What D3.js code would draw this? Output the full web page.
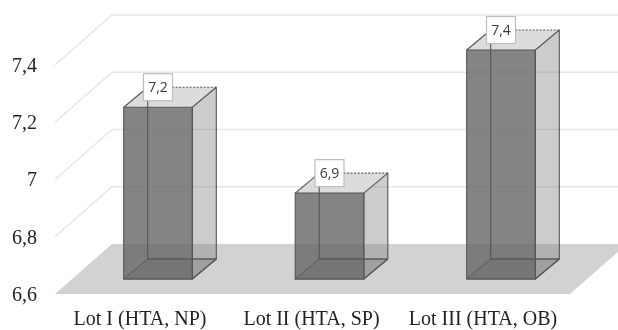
<!DOCTYPE html>
<html>
<head>
<meta charset="utf-8">
<script src="https://cdn.jsdelivr.net/npm/d3@7"></script>
<style>
  html, body { margin: 0; padding: 0; background: #fff; }
  svg { display: block; }
  .axis text { font-family: "Liberation Serif", serif; fill: #222; }
</style>
</head>
<body>
<div id="chart"></div>
<script>
const categories = ["Lot I (HTA, NP)", "Lot II (HTA, SP)", "Lot III (HTA, OB)"];
const values = [7.2, 6.9, 7.4];
const labels = ["7,2", "6,9", "7,4"];
const yTicks = [6.6, 6.8, 7, 7.2, 7.4];

const width = 618, height = 330;

// 3D offsets: floor depth and bar depth
const floorDx = 57, floorDy = 50;
const barDx = 24, barDy = 20;

const svg = d3.select("#chart").append("svg")
    .attr("width", width)
    .attr("height", height);

// the reference is a soft scan
svg.append("defs").append("filter")
    .attr("id", "soft")
    .append("feGaussianBlur")
    .attr("stdDeviation", 0.5);

const root = svg.append("g").attr("filter", "url(#soft)");

// Scales
const x = d3.scaleBand()
    .domain(categories)
    .range([72.25, 586.75])
    .paddingInner(0.6)
    .paddingOuter(0.3);

// front plane of the floor (axis labels sit here)
const yFront = d3.scaleLinear().domain([6.6, 7.4]).range([294, 65]);
// plane of the bar fronts
const yBar = d3.scaleLinear().domain([6.6, 7.4]).range([279, 50]);

const floorLeft = 55, floorRight = 570;

// Floor
root.append("polygon")
    .attr("points", [
        [floorLeft, yFront(6.6)],
        [floorRight, yFront(6.6)],
        [floorRight + floorDx, yFront(6.6) - floorDy],
        [floorLeft + floorDx, yFront(6.6) - floorDy]
    ].join(" "))
    .attr("fill", "#d2d2d2");

// Grid lines, side wall + back wall
root.selectAll(".grid")
    .data(yTicks.filter(d => d > 6.6))
    .enter()
    .append("polyline")
    .attr("class", "grid")
    .attr("fill", "none")
    .attr("stroke", "#e6e6e6")
    .attr("stroke-width", 1.3)
    .attr("points", d => [
        [floorLeft, yFront(d)],
        [floorLeft + floorDx, yFront(d) - floorDy],
        [width, yFront(d) - floorDy]
    ].join(" "));

// Bars
const bar = root.selectAll(".bar")
    .data(categories.map((c, i) => ({ cat: c, value: values[i], label: labels[i] })))
    .enter()
    .append("g")
    .attr("class", "bar");

const edge = "#555";

function face(sel, pts, fill, opacity) {
    sel.append("polygon")
        .attr("points", d => pts(d).join(" "))
        .attr("fill", fill)
        .attr("fill-opacity", opacity)
        .attr("stroke", edge)
        .attr("stroke-width", 1.1)
        .attr("stroke-linejoin", "round");
}

function edgeLine(sel, pts) {
    return sel.append("polyline")
        .attr("points", d => pts(d).join(" "))
        .attr("fill", "none")
        .attr("stroke", edge)
        .attr("stroke-width", 1.1);
}

const x0 = d => x(d.cat);
const x1 = d => x(d.cat) + x.bandwidth();
const yb = yBar(6.6);

// bottom face
face(bar, d => [[x0(d), yb], [x1(d), yb], [x1(d) + barDx, yb - barDy], [x0(d) + barDx, yb - barDy]], "#777", 0.3);

// top face, no outline: its back edge is dotted
bar.append("polygon")
    .attr("points", d => [[x0(d), yBar(d.value)], [x1(d), yBar(d.value)], [x1(d) + barDx, yBar(d.value) - barDy], [x0(d) + barDx, yBar(d.value) - barDy]].join(" "))
    .attr("fill", "#dcdcdc");

// side face
face(bar, d => [[x1(d), yb], [x1(d) + barDx, yb - barDy], [x1(d) + barDx, yBar(d.value) - barDy], [x1(d), yBar(d.value)]], "#808080", 0.4);

// front face
face(bar, d => [[x0(d), yb], [x1(d), yb], [x1(d), yBar(d.value)], [x0(d), yBar(d.value)]], "#666", 0.8);

// edges seen through the front
edgeLine(bar, d => [[x0(d) + barDx, yBar(d.value) - barDy], [x0(d) + barDx, yb - barDy], [x1(d) + barDx, yb - barDy]]);
edgeLine(bar, d => [[x0(d), yBar(d.value)], [x0(d) + barDx, yBar(d.value) - barDy]]);
edgeLine(bar, d => [[x0(d) + barDx, yBar(d.value) - barDy], [x1(d) + barDx, yBar(d.value) - barDy]])
    .attr("stroke-dasharray", "2 1.5");

// Value labels
const boxW = 29, boxH = 27;

bar.append("rect")
    .attr("x", d => x0(d) + x.bandwidth() / 2 - boxW / 2)
    .attr("y", d => yBar(d.value) - barDy - boxH / 2)
    .attr("width", boxW)
    .attr("height", boxH)
    .attr("fill", "#fff")
    .attr("stroke", "#bdbdbd")
    .attr("stroke-width", 1.2);

bar.append("text")
    .attr("x", d => x0(d) + x.bandwidth() / 2)
    .attr("y", d => yBar(d.value) - barDy)
    .attr("dy", "0.35em")
    .attr("text-anchor", "middle")
    .attr("font-family", "'Open Sans', sans-serif")
    .attr("font-size", 14)
    .attr("fill", "#3a3a3a")
    .text(d => d.label);

// Axes
const yAxis = root.append("g")
    .attr("class", "axis")
    .attr("transform", "translate(37,0)")
    .call(d3.axisLeft(yFront)
        .tickValues(yTicks)
        .tickSize(0)
        .tickPadding(0)
        .tickFormat(d => String(d).replace(".", ",")));
yAxis.select(".domain").remove();
yAxis.selectAll("text").attr("font-size", 20).attr("font-family", null);

const xAxis = root.append("g")
    .attr("class", "axis")
    .attr("transform", "translate(-18,311)")
    .call(d3.axisBottom(x).tickSize(0).tickPadding(0));
xAxis.select(".domain").remove();
xAxis.selectAll("text").attr("font-size", 20).attr("font-family", null);
</script>
</body>
</html>
